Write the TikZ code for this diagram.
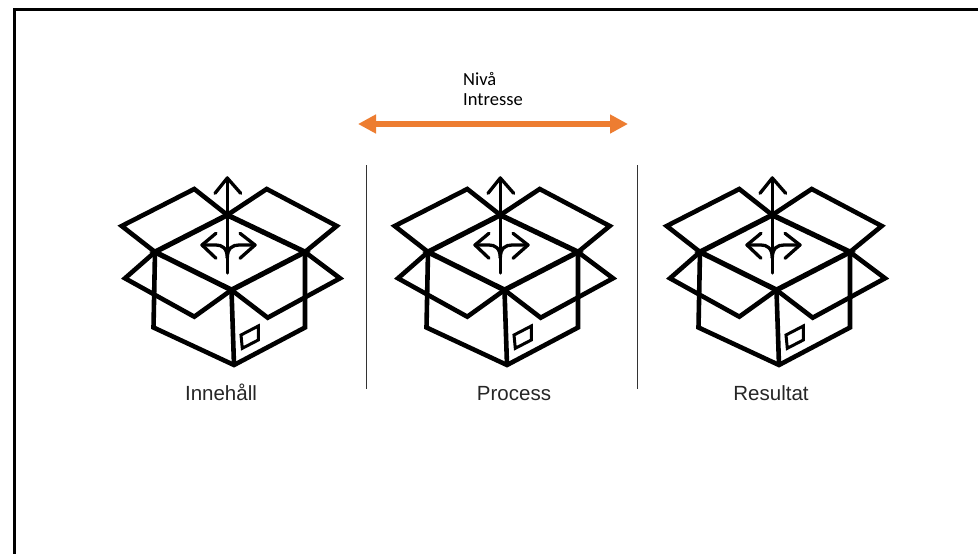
\documentclass[tikz,border=0pt]{standalone}
\usepackage{fontspec}
\setmainfont{Liberation Sans}
\newfontfamily\carl{Carlito}
\usetikzlibrary{arrows.meta}
\definecolor{orangeline}{RGB}{237,125,49}
\tikzset{
  thick line/.style={line width=4.6pt,line join=miter,line cap=butt},
  heavy line/.style={line width=5.2pt,line join=miter,line cap=butt},
  thin line/.style={line width=3.3pt,line join=round,line cap=round},
  caption/.style={font=\fontsize{20.5}{24}\selectfont,text=black!85,anchor=base,inner sep=0pt},
  sep/.style={line width=1.3pt,draw=black!80},
  pics/openbox/.style={code={
    % body
    \draw[thick line] (155,252) -- (153.5,327.5) -- (234,365) -- (305,327.5) -- (305,252);
    \draw[thick line] (231.5,290) -- (234,365);
    % opening
    \draw[heavy line] (227.3,215) -- (155,252) -- (231.5,290) -- (305,252) -- cycle;
    % top flaps
    \draw[thick line] (227.3,215) -- (194.3,189) -- (121.7,226) -- (155,252);
    \draw[thick line] (227.3,215) -- (266.7,189) -- (336.7,226) -- (305,252);
    % lower flaps
    \draw[thick line] (155,252) -- (125,278.3) -- (194.3,316.7) -- (231.5,290);
    \draw[thick line] (305,252) -- (340,278.3) -- (267.7,317.7) -- (231.5,290);
    % label window
    \draw[line width=3pt] (241,335) -- (258.3,326) -- (258.3,340) -- (242.3,348.3) -- cycle;
    % arrows
    \draw[thin line] (227.3,273) -- (227.3,178);
    \draw[thin line] (215,193.3) -- (227.3,178) -- (240.7,193.3);
    \draw[thin line] (227.3,258) .. controls (227.3,248) and (222,245) .. (216,245) -- (202,245);
    \draw[thin line] (227.3,258) .. controls (227.3,248) and (232.6,245) .. (239,245) -- (255,245);
    \draw[thin line] (216,233.3) -- (202,245) -- (216,258.3);
    \draw[thin line] (240,233.3) -- (255,245) -- (240,258.3);
  }}
}
\begin{document}
\begin{tikzpicture}[x=1pt,y=-1pt]
\useasboundingbox (0,0) rectangle (978,554);
\fill[white] (0,0) rectangle (978,554);
\draw[line width=3pt] (14.5,554) -- (14.5,9.5) -- (978,9.5);
\pic at (0,0) {openbox};
\pic at (273,0) {openbox};
\pic at (545,0) {openbox};
\coordinate (sa) at (366.5,165);
\coordinate (sb) at (366.5,389);
\coordinate (sc) at (637.5,165);
\coordinate (sd) at (637.5,389);
\draw[sep] (sa) -- (sb);
\draw[sep] (sc) -- (sd);
\coordinate (al) at (358,124);
\coordinate (ar) at (628,124);
\draw[orangeline,line width=5.3pt,{Triangle[length=18pt,width=18pt]}-{Triangle[length=18pt,width=18pt]}] (al) -- (ar);
\node[anchor=west,font=\carl\fontsize{18.5}{20}\selectfont,align=left,inner sep=0pt] (lab) at (463,89.5) {Nivå\\Intresse};
\node[caption] (c1) at (221,400) {Innehåll};
\node[caption] (c2) at (514,400) {Process};
\node[caption] (c3) at (771,400) {Resultat};
\end{tikzpicture}
\end{document}
